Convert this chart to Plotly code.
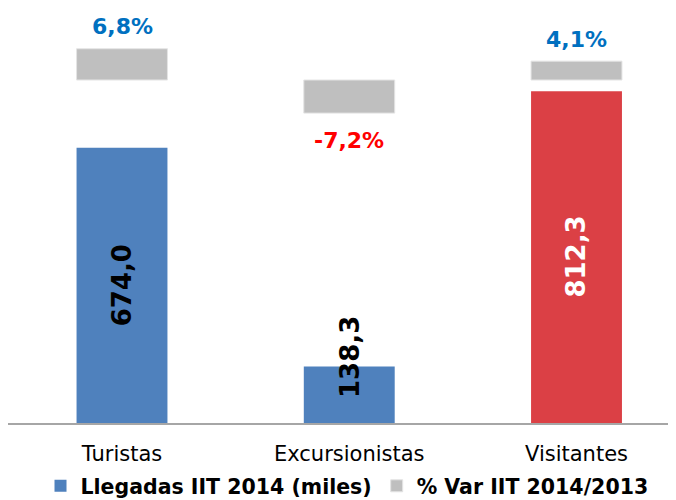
import plotly.graph_objects as go

categories = ["Turistas", "Excursionistas", "Visitantes"]
llegadas = [674.0, 138.3, 812.3]
var_pct = [6.8, -7.2, 4.1]
llegadas_labels = ["674,0", "138,3", "812,3"]
var_labels = ["6,8%", "-7,2%", "4,1%"]
series_names = ["Llegadas IIT 2014 (miles)", "% Var IIT 2014/2013"]

bar_colors = ["#4F81BD", "#4F81BD", "#DB4045"]
value_label_colors = ["#000000", "#000000", "#FFFFFF"]
value_label_shift = [0, 38, 0]

fig = go.Figure()
fig.add_trace(go.Bar(
    x=categories, y=llegadas, name=series_names[0],
    marker=dict(color=bar_colors, line=dict(width=0)),
    width=0.4, yaxis="y", hoverinfo="skip",
))
fig.add_trace(go.Bar(
    x=categories, y=var_pct, name=series_names[1],
    marker=dict(color="#BFBFBF", line=dict(width=1, color="#E4E4E4")),
    width=0.4, yaxis="y2", hoverinfo="skip",
))

annotations = []
for c, v, lab, col, sh in zip(categories, llegadas, llegadas_labels, value_label_colors, value_label_shift):
    annotations.append(dict(
        x=c, y=v / 2, xref="x", yref="y", text="<b>%s</b>" % lab, showarrow=False,
        textangle=-90, yshift=sh,
        font=dict(family="DejaVu Sans", size=26, color=col),
    ))
for c, v, lab in zip(categories, var_pct, var_labels):
    pos = v >= 0
    annotations.append(dict(
        x=c, y=v, xref="x", yref="y2", text="<b>%s</b>" % lab, showarrow=False,
        yanchor="middle", yshift=22 if pos else -27,
        font=dict(family="DejaVu Sans", size=22, color="#0070C0" if pos else "#FF0000"),
    ))

# page body has an 8px default margin: figure is sized/placed to compensate
fig.update_layout(
    width=668, height=492,
    margin=dict(l=0, r=0, t=2, b=77, autoexpand=False),
    paper_bgcolor="white", plot_bgcolor="white",
    showlegend=True,
    legend=dict(
        orientation="h", x=0.5075, xanchor="center", y=-0.1525, yanchor="middle",
        font=dict(family="DejaVu Sans", size=20.5, color="#000000", weight="bold"),
        itemwidth=30, traceorder="normal",
    ),
    xaxis=dict(
        type="category", range=[-0.50165, 2.4378],
        showline=True, linecolor="#A6A6A6", linewidth=2,
        ticks="", showgrid=False, zeroline=False,
        tickfont=dict(family="DejaVu Sans", size=21, color="#000000"),
        ticklabelstandoff=11,
    ),
    yaxis=dict(range=[0, 1011], visible=False, showgrid=False, zeroline=False),
    yaxis2=dict(range=[-74.57, 15.22], overlaying="y", visible=False,
                showgrid=False, zeroline=False),
    annotations=annotations,
    barmode="overlay",
)

fig.write_html("out.html")
